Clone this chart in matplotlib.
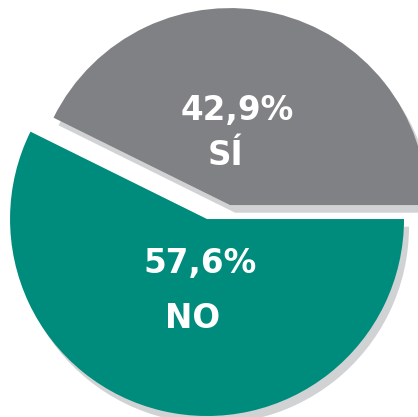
import matplotlib
matplotlib.use('Agg')
import matplotlib.pyplot as plt
import matplotlib.patheffects as pe

labels = ['SÍ', 'NO']
values = [42.9, 57.6]
pct_text = ['42,9%', '57,6%']
colors = ['#808185', '#008c7c']

fig = plt.figure(figsize=(4.18, 4.17), dpi=100)
ax = fig.add_axes([0, 0, 1, 1])

wedges, _ = ax.pie(values, colors=colors, startangle=0, counterclock=True,
                   radius=1.0, wedgeprops=dict(linewidth=0))

# the NO slice is pulled out towards the lower left
wedges[1].set_center((-0.117, -0.071))

shadow = [pe.SimplePatchShadow(offset=(3.6, -5.5), shadow_rgbFace='#d1d2d4', alpha=1.0),
          pe.Normal()]
for w in wedges:
    w.set_path_effects(shadow)

# labels (percentage and category)
pct_pos = [(0.038, 0.431), (-0.152, -0.345)]
lab_pos = [(-0.025, 0.203), (-0.188, -0.624)]
for i in range(len(values)):
    ax.text(pct_pos[i][0], pct_pos[i][1], pct_text[i], color='white',
            fontsize=23.5, fontweight='bold', ha='center', va='baseline')
    ax.text(lab_pos[i][0], lab_pos[i][1], labels[i], color='white',
            fontsize=23.5, fontweight='bold', ha='center', va='baseline')

ax.set_xlim(-1.168, 0.954)
ax.set_ylim(-1.076, 1.041)
ax.set_aspect('auto')
ax.axis('off')

fig.savefig('out.png', dpi=100)
